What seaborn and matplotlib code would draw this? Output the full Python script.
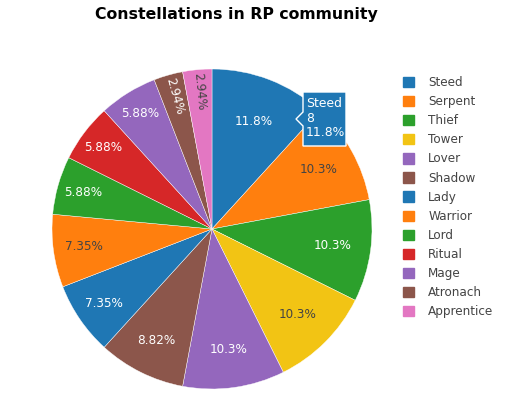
import matplotlib
matplotlib.use("Agg")
import matplotlib.pyplot as plt
import numpy as np
import seaborn as sns
from matplotlib.patches import Patch, Polygon

# data
constellations = ["Steed", "Serpent", "Thief", "Tower", "Lover", "Shadow", "Lady",
                  "Warrior", "Lord", "Ritual", "Mage", "Atronach", "Apprentice"]
counts = [8, 7, 7, 7, 7, 6, 5, 5, 4, 4, 4, 2, 2]

colors = ["#1f77b4", "#ff7f0e", "#2ca02c", "#f2c414", "#9467bd", "#8c564b", "#1f77b4",
          "#ff7f0e", "#2ca02c", "#d62728", "#9467bd", "#8c564b", "#e377c2"]
light = {"#ff7f0e", "#f2c414", "#e377c2"}
# how far out each percentage label sits (fraction of radius), plotly-like
text_r = [0.72, 0.76, 0.76, 0.76, 0.76, 0.78, 0.82, 0.81, 0.84, 0.85, 0.85, 0.86, 0.86]

sns.set_theme(style="white")
plt.rcParams["font.family"] = ["DejaVu Sans"]

W, H = 521, 415
fig = plt.figure(figsize=(W / 100, H / 100), dpi=100)
cx, cy, r = 212, 229, 160
ax = fig.add_axes([(cx - r) / W, (H - cy - r) / H, 2 * r / W, 2 * r / H])

wedges, texts, autotexts = ax.pie(
    counts, colors=colors, startangle=90, counterclock=False,
    autopct="%.3g%%", pctdistance=0.8, radius=1,
    wedgeprops=dict(linewidth=0.3, edgecolor="white"),
    textprops=dict(fontsize=8.64),
)
ax.set_xlim(-1, 1)
ax.set_ylim(-1, 1)
ax.set_aspect("equal")
ax.axis("off")

total = sum(counts)
for w, t, c, n, d in zip(wedges, autotexts, colors, counts, text_r):
    mid = np.deg2rad((w.theta1 + w.theta2) / 2)
    t.set_position((d * np.cos(mid), d * np.sin(mid)))
    t.set_color("#444444" if c in light else "white")
    if n / total < 0.04:
        t.set_rotation(np.rad2deg(mid) - 180)
        t.set_rotation_mode("anchor")

fig.text(236.5 / W, 1 - 14 / H, "Constellations in RP community", ha="center", va="center",
         fontsize=11.3, fontweight="bold", color="black")

handles = [Patch(facecolor=c, edgecolor=c) for c in colors]
fig.legend(handles, constellations, loc="upper left", bbox_to_anchor=(403 / W, 1 - 76 / H),
           frameon=False, fontsize=8.64, handlelength=0.95, handleheight=0.95,
           handletextpad=1.15, labelspacing=0.51, borderaxespad=0, borderpad=0,
           labelcolor="#444444")

# hover tooltip on Steed
def px(x, y):
    return [x / W, 1 - y / H]

tip = Polygon([px(303, 92), px(346, 92), px(346, 146), px(303, 146),
               px(303, 126), px(296, 119), px(303, 112)],
              closed=True, transform=fig.transFigure, fc="#1f77b4", ec="white", lw=1)
fig.add_artist(tip)
fig.text(306 / W, 1 - 118 / H, "Steed\n8\n11.8%", ha="left", va="center",
         fontsize=8.9, color="white", linespacing=1.12)

fig.savefig("out.png", dpi=100)
